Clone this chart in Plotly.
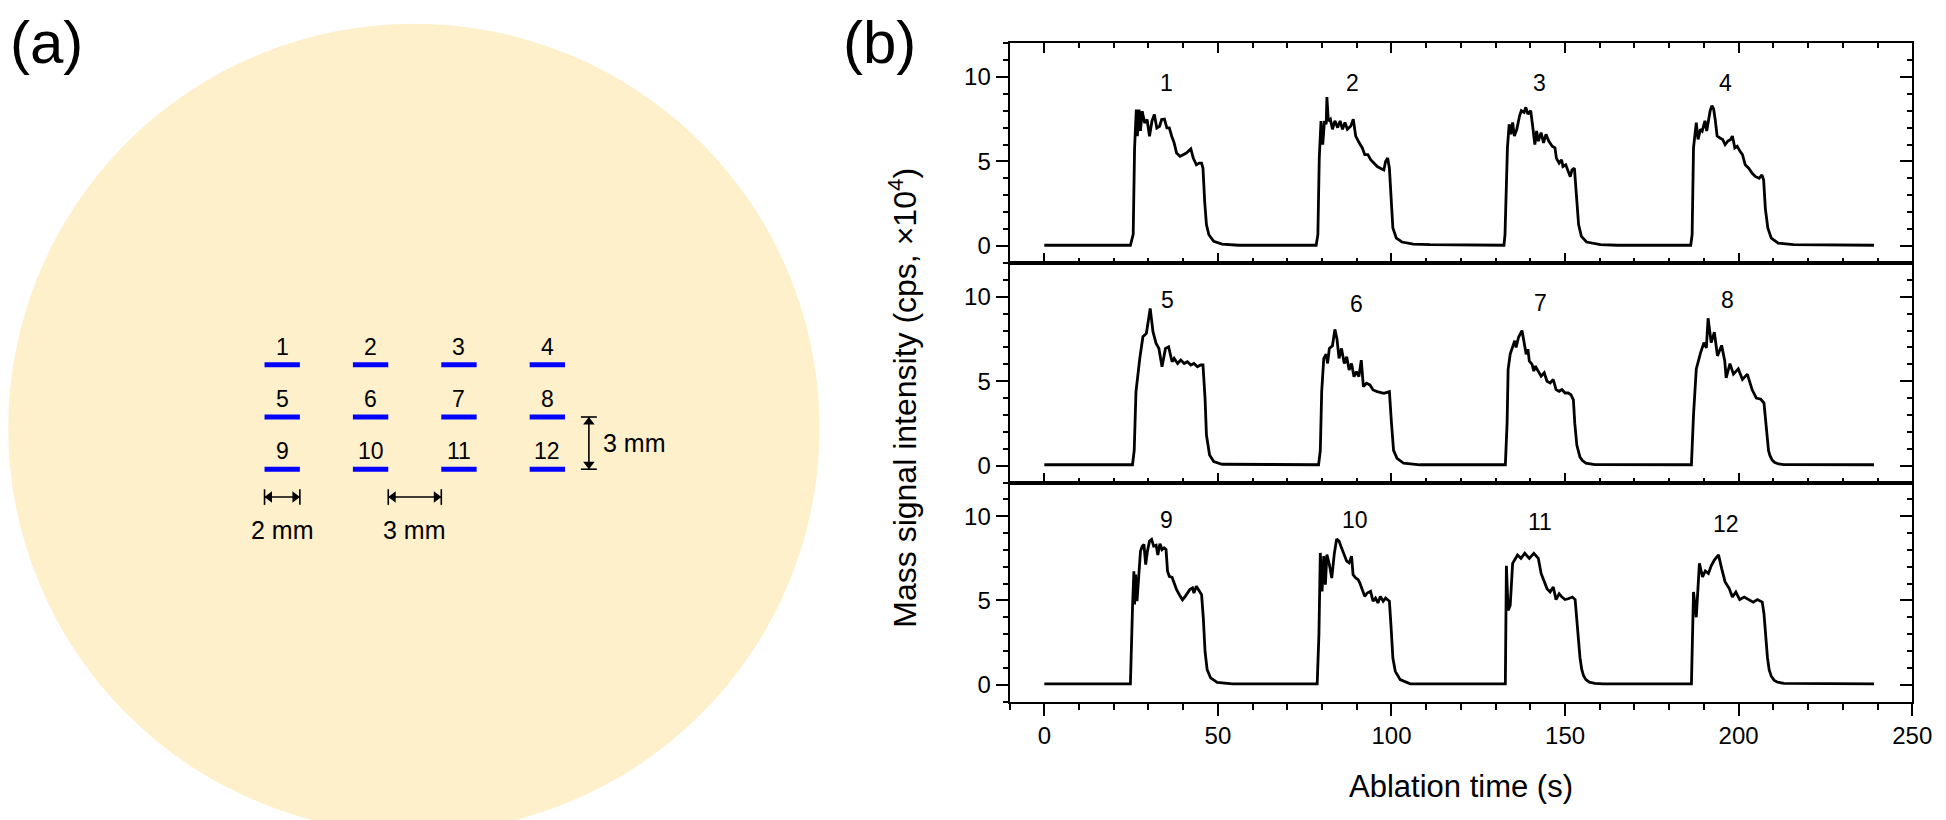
import plotly.graph_objects as go

# ---------------- Panel (a): ablation-line layout on the sample disc (mm) ----------------
spot_ids = list(range(1, 13))
spot_col_x = [-7.5, -2.5, 2.5, 7.5]   # centres of the 2-mm ablation lines
spot_row_y = [3.0, 0.0, -3.0]
line_len_mm = 2.0
disc_x = [-23.0, 22.9]
disc_y = [-23.9, 22.6]

# ---------------- Panel (b): transient signals (x10^4 cps) ----------------
p1_t = [0, 24.8, 25.6, 26.0, 26.5, 26.8, 27.3, 27.7, 28.2, 28.9, 29.6, 30.3, 31.0, 31.7, 32.4, 33.2, 33.8, 34.6, 35.3,
        36.0, 36.7, 37.4, 38.1, 39.1, 40.0, 40.9, 42.2, 42.9, 43.8, 44.6, 45.3, 45.7, 46.2, 46.7, 47.4, 48.8, 51.2, 56.0]
p1_y = [0.05, 0.05, 0.7, 5.8, 8.07, 6.5, 8.07, 6.8, 7.97, 7.28, 7.48, 6.49, 7.38, 7.77, 6.98, 7.08, 7.48, 7.5, 6.98,
        6.98, 6.49, 6.1, 5.5, 5.3, 5.4, 5.5, 5.74, 5.2, 4.8, 4.9, 4.9, 4.6, 2.6, 1.27, 0.67, 0.28, 0.12, 0.05]
p2_t = [78.3, 78.8, 79.2, 79.7, 80.2, 80.7, 81.2, 81.4, 81.8, 82.4, 83.0, 83.7, 84.5, 85.2, 85.9, 86.6, 87.3, 88.3, 89.0,
        89.7, 90.7, 91.6, 92.3, 93.2, 94.0, 94.9, 95.9, 96.8, 97.8, 98.3, 98.9, 99.4, 99.9, 100.4, 101.4, 103.0, 106.3, 111.1]
p2_y = [0.05, 0.67, 5.2, 7.38, 6.0, 7.38, 7.2, 8.8, 7.4, 7.5, 6.9, 7.4, 7.0, 7.4, 6.9, 7.3, 6.9, 7.1, 7.5,
        6.5, 6.1, 5.8, 5.4, 5.4, 5.1, 4.9, 4.7, 4.6, 4.5, 5.0, 5.2, 4.6, 2.8, 1.07, 0.47, 0.24, 0.12, 0.08]
p3_t = [132.4, 132.7, 133.4, 133.9, 134.4, 134.9, 135.4, 136.1, 136.9, 137.4, 138.2, 138.7, 139.3, 140.1, 140.6, 141.3,
        141.8, 142.3, 143.1, 143.8, 144.5, 145.3, 146.3, 147.1, 147.5, 148.3, 149.0, 149.4, 150.2, 150.9, 151.5, 152.0,
        152.7, 153.2, 153.9, 154.7, 156.2, 160.2, 165.1]
p3_y = [0.05, 0.67, 5.8, 7.2, 6.6, 7.3, 6.5, 6.9, 7.7, 8.0, 7.9, 8.2, 7.8, 8.0, 7.2, 6.0,
        6.8, 6.2, 6.7, 6.1, 6.6, 6.2, 5.9, 5.8, 5.2, 4.9, 5.1, 4.7, 4.8, 4.4, 4.1, 4.5,
        4.6, 3.2, 1.27, 0.57, 0.24, 0.08, 0.05]
p4_t = [186.2, 186.6, 187.0, 187.8, 188.3, 189.0, 189.5, 190.3, 190.8, 191.3, 191.8, 192.3, 192.8, 193.3, 193.8, 194.5,
        195.4, 196.1, 196.9, 197.7, 198.2, 198.9, 199.6, 200.4, 201.1, 201.9, 202.9, 203.9, 204.9, 205.9, 206.7, 207.2,
        207.7, 208.4, 209.4, 211.4, 215.8, 239.0]
p4_y = [0.05, 0.67, 5.8, 7.3, 6.3, 6.9, 6.8, 7.4, 6.8, 7.5, 8.0, 8.3, 8.1, 7.4, 6.5, 6.4,
        6.3, 6.0, 6.2, 6.3, 6.5, 5.8, 5.9, 5.6, 5.4, 4.8, 4.6, 4.3, 4.1, 4.0, 4.2, 3.9,
        2.2, 1.07, 0.47, 0.18, 0.08, 0.05]

p5_t = [0, 25.4, 25.9, 26.4, 27.5, 28.4, 29.4, 30.5, 31.3, 32.2, 33.0, 33.9, 34.9, 35.8, 36.8, 37.4, 38.4, 39.3, 40.3,
        41.2, 42.2, 43.1, 44.1, 45.0, 45.7, 46.3, 46.7, 47.6, 48.8, 51.2]
p5_y = [0.05, 0.05, 0.9, 4.38, 6.35, 7.63, 7.83, 9.31, 7.93, 7.24, 6.94, 5.86, 6.94, 7.04, 6.15, 6.35, 6.05, 6.25, 6.05,
        6.15, 5.96, 6.05, 5.86, 5.96, 5.96, 3.98, 1.81, 0.63, 0.24, 0.08]
p6_t = [79.0, 79.5, 79.9, 80.5, 81.2, 81.6, 82.1, 83.0, 83.7, 84.3, 84.9, 85.6, 86.4, 87.1, 87.8, 88.5, 89.2, 89.9,
        90.6, 91.3, 91.9, 92.8, 93.8, 94.7, 95.9, 96.8, 97.8, 98.7, 99.4, 99.97, 100.6, 101.6, 103.5, 108.2]
p6_y = [0.05, 0.9, 4.4, 6.35, 6.6, 6.05, 6.94, 7.1, 8.07, 7.5, 6.35, 6.94, 6.05, 6.45, 5.66, 6.05, 5.27, 5.57,
        5.27, 6.25, 4.68, 4.88, 4.78, 4.48, 4.38, 4.34, 4.28, 4.34, 4.38, 2.6, 0.9, 0.43, 0.14, 0.05]
p7_t = [132.8, 133.3, 133.6, 134.2, 134.9, 135.5, 135.9, 136.6, 137.6, 138.2, 138.8, 139.3, 139.7, 140.5, 141.0, 141.4,
        142.3, 143.1, 144.0, 144.8, 145.7, 146.6, 147.4, 148.3, 149.1, 150.0, 150.9, 151.7, 152.4, 152.8, 153.4, 153.8,
        154.3, 155.0, 156.0, 158.6]
p7_y = [0.05, 2.5, 5.7, 6.6, 7.0, 7.4, 7.0, 7.6, 8.0, 7.4, 6.6, 6.9, 6.2, 6.0, 5.6, 5.9,
        5.6, 5.3, 5.5, 5.0, 4.9, 5.1, 4.5, 4.4, 4.5, 4.3, 4.3, 4.2, 3.9, 2.5, 1.2, 0.8,
        0.5, 0.3, 0.15, 0.06]
p8_t = [186.4, 187.0, 187.8, 189.0, 190.0, 190.7, 191.2, 192.1, 193.0, 193.9, 195.1, 196.0, 196.4, 197.5, 198.5, 199.9,
        201.1, 202.5, 203.9, 205.1, 206.4, 207.3, 207.8, 208.2, 208.6, 209.0, 209.6, 210.3, 211.5, 213.0, 239.0]
p8_y = [0.05, 3.0, 5.73, 6.66, 7.28, 6.97, 8.73, 7.28, 7.9, 6.5, 7.12, 6.2, 5.2, 6.04, 5.42, 5.73,
        5.1, 5.42, 4.49, 4.0, 3.93, 3.7, 2.6, 1.4, 0.9, 0.6, 0.35, 0.2, 0.1, 0.06, 0.05]

p9_t = [0, 24.8, 25.4, 25.8, 26.0, 26.3, 26.7, 27.3, 27.7, 28.2, 28.7, 29.2, 29.7, 30.3, 30.9, 31.5, 32.2, 32.7, 33.3,
        33.9, 34.5, 35.06, 35.5, 36.0, 36.8, 37.4, 38.1, 38.9, 39.8, 40.6, 41.2, 41.9, 42.7, 43.1, 43.8, 44.6, 45.3,
        45.8, 46.3, 46.9, 47.9, 49.8, 54.1]
p9_y = [0.05, 0.05, 4.55, 6.73, 4.76, 6.53, 4.95, 6.93, 7.92, 8.22, 8.32, 7.13, 7.92, 8.52, 8.62, 8.22, 8.28, 7.69, 8.36,
        8.02, 8.12, 8.02, 6.73, 6.43, 6.37, 6.03, 5.64, 5.34, 5.04, 5.24, 5.44, 5.64, 5.74, 5.44, 5.84, 5.54, 5.34,
        3.95, 1.97, 0.89, 0.4, 0.14, 0.05]
p10_t = [78.6, 79.1, 79.5, 80.0, 80.5, 80.96, 81.4, 82.1, 82.8, 83.5, 84.2, 84.9, 85.6, 86.4, 87.1, 87.8, 88.5, 88.94,
         89.7, 90.4, 90.9, 91.6, 92.3, 93.0, 93.97, 94.7, 95.4, 96.1, 96.8, 97.6, 98.3, 98.9, 99.4, 99.9, 100.4, 101.1,
         102.5, 105.4]
p10_y = [0.05, 2.97, 7.82, 5.54, 7.63, 5.94, 7.72, 7.13, 6.33, 7.72, 8.65, 8.52, 8.12, 7.63, 7.33, 7.23, 7.63, 6.53,
         6.33, 6.23, 6.03, 5.64, 5.24, 5.44, 5.54, 4.95, 5.14, 4.85, 5.24, 4.95, 5.14, 5.04, 4.95, 3.37, 1.58, 0.79,
         0.3, 0.05]
p11_t = [132.8, 133.1, 133.6, 134.2, 134.9, 136.3, 137.3, 138.4, 139.7, 141.0, 142.3, 143.1, 144.0, 144.8, 145.7, 146.6,
         147.4, 148.3, 149.1, 150.0, 150.9, 152.1, 152.9, 153.3, 153.8, 154.3, 154.8, 155.3, 156.0, 157.0, 158.6, 161.0]
p11_y = [0.05, 7.06, 4.4, 4.7, 7.2, 7.7, 7.5, 7.8, 7.5, 7.8, 7.5, 6.6, 6.1, 5.7, 5.5, 5.8,
         5.05, 5.4, 5.2, 5.05, 5.1, 5.2, 5.05, 4.0, 2.9, 1.6, 0.9, 0.55, 0.3, 0.15, 0.08, 0.05]
p12_t = [186.4, 187.0, 187.8, 188.7, 189.6, 190.4, 191.3, 192.1, 193.0, 194.2, 195.1, 196.1, 197.3, 198.2, 199.2, 200.3,
         201.6, 202.8, 204.2, 205.4, 206.8, 207.3, 207.8, 208.3, 208.8, 209.4, 210.2, 211.2, 213.0, 239.0]
p12_y = [0.05, 5.5, 4.0, 7.2, 6.4, 6.75, 6.6, 7.06, 7.4, 7.7, 6.9, 6.1, 5.7, 5.2, 5.5, 5.05,
         5.2, 5.05, 4.9, 5.05, 4.9, 4.2, 2.9, 1.6, 0.87, 0.5, 0.27, 0.15, 0.08, 0.05]

panel_t = [p1_t + p2_t + p3_t + p4_t, p5_t + p6_t + p7_t + p8_t, p9_t + p10_t + p11_t + p12_t]
panel_y = [p1_y + p2_y + p3_y + p4_y, p5_y + p6_y + p7_y + p8_y, p9_y + p10_y + p11_y + p12_y]

peak_label_x = [35.2, 88.9, 142.5, 196.1, 35.6, 89.8, 142.8, 196.8, 35.1, 89.4, 142.8, 196.4]
peak_label_y = [9.65, 9.65, 9.65, 9.65, 9.8, 9.6, 9.65, 9.8, 9.8, 9.8, 9.65, 9.55]

x_ticks = [0, 50, 100, 150, 200, 250]
y_ticks = [0, 5, 10]

# ---------------- figure ----------------
W, H = 1946, 820
FONT = "Liberation Sans, Arial, Helvetica, sans-serif"


def py(p):
    return 1 - p / H


fig = go.Figure()

# ablation lines
lx, ly = [], []
for ry in spot_row_y:
    for cx in spot_col_x:
        lx += [cx - line_len_mm / 2, cx + line_len_mm / 2, None]
        ly += [ry, ry, None]
fig.add_trace(go.Scatter(x=lx, y=ly, mode="lines", line=dict(color="rgb(0,0,255)", width=5),
                         xaxis="x", yaxis="y", showlegend=False, hoverinfo="skip"))

# dimension arrows (lines + arrow-head markers)
dim_y = spot_row_y[-1] - 1.6
bar = 0.45
head = 0.28
h_dims = [(spot_col_x[0] - line_len_mm / 2, spot_col_x[0] + line_len_mm / 2, "2 mm"),
          (spot_col_x[1] + line_len_mm / 2, spot_col_x[2] - line_len_mm / 2, "3 mm")]
v_x = spot_col_x[-1] + 2.35
v_top, v_bot = spot_row_y[1], spot_row_y[2]

ax_, ay_ = [], []
for x0, x1, _ in h_dims:
    ax_ += [x0, x1, None, x0, x0, None, x1, x1, None]
    ay_ += [dim_y, dim_y, None, dim_y - bar, dim_y + bar, None, dim_y - bar, dim_y + bar, None]
ax_ += [v_x, v_x, None, v_x - bar, v_x + bar, None, v_x - bar, v_x + bar, None]
ay_ += [v_top, v_bot, None, v_top, v_top, None, v_bot, v_bot, None]
fig.add_trace(go.Scatter(x=ax_, y=ay_, mode="lines", line=dict(color="black", width=1.6),
                         xaxis="x", yaxis="y", showlegend=False, hoverinfo="skip"))
hx, hy, hs = [], [], []
for x0, x1, _ in h_dims:
    hx += [x0 + head, x1 - head]
    hy += [dim_y, dim_y]
    hs += ["triangle-left", "triangle-right"]
hx += [v_x, v_x]
hy += [v_top - head * 1.03, v_bot + head * 1.03]
hs += ["triangle-up", "triangle-down"]
fig.add_trace(go.Scatter(x=hx, y=hy, mode="markers",
                         marker=dict(symbol=hs, size=10, color="black", line=dict(width=0)),
                         xaxis="x", yaxis="y", showlegend=False, hoverinfo="skip"))

# panel (b) signals
for i in range(3):
    fig.add_trace(go.Scatter(x=panel_t[i], y=panel_y[i], mode="lines",
                             line=dict(color="black", width=2.8),
                             xaxis=f"x{i + 2}", yaxis=f"y{i + 2}", showlegend=False, hoverinfo="skip"))
    # dummy trace so the right-hand tick axis is drawn
    fig.add_trace(go.Scatter(x=[None], y=[None], xaxis=f"x{i + 2}", yaxis=f"y{i + 5}",
                             showlegend=False, hoverinfo="skip"))

annotations = []
shapes = []

# disc
shapes.append(dict(type="circle", xref="x", yref="y", x0=disc_x[0], x1=disc_x[1], y0=disc_y[0], y1=disc_y[1],
                   fillcolor="rgb(254,240,203)", line=dict(width=0), layer="below"))

# spot numbers
k = 0
for ry in spot_row_y:
    for cx in spot_col_x:
        annotations.append(dict(x=cx, y=ry, xref="x", yref="y", text=str(spot_ids[k]), showarrow=False,
                                xanchor="center", yanchor="middle",
                                yshift=18, font=dict(family=FONT, size=23, color="black")))
        k += 1

for x0, x1, lab in h_dims:
    annotations.append(dict(x=(x0 + x1) / 2, y=dim_y - 1.9, xref="x", yref="y", text=lab, showarrow=False,
                            xanchor="center", yanchor="middle", font=dict(family=FONT, size=25, color="black")))
annotations.append(dict(x=v_x + 0.7, y=(v_top + v_bot) / 2, xref="x", yref="y", text="3 mm",
                        xanchor="left", yanchor="middle", showarrow=False,
                        font=dict(family=FONT, size=25, color="black")))

# panel letters
annotations.append(dict(x=0, y=py(34), xref="paper", yref="paper", text="(a)", xanchor="left", yanchor="middle",
                        showarrow=False, font=dict(family=FONT, size=60, color="black")))
annotations.append(dict(x=842 / W, y=py(34), xref="paper", yref="paper", text="(b)", xanchor="left",
                        yanchor="middle", showarrow=False, font=dict(family=FONT, size=60, color="black")))

# peak labels
for j in range(12):
    p = j // 4
    annotations.append(dict(x=peak_label_x[j], y=peak_label_y[j], xref=f"x{p + 2}", yref=f"y{p + 2}",
                            text=str(spot_ids[j]), showarrow=False, xanchor="center", yanchor="middle",
                            font=dict(family=FONT, size=23, color="black")))

# axis titles
annotations.append(dict(x=1468 / W, y=py(778), xref="paper", yref="paper", text="Ablation time (s)",
                        xanchor="center", yanchor="middle",
                        showarrow=False, font=dict(family=FONT, size=31, color="black")))
annotations.append(dict(x=904 / W, y=py(390), xref="paper", yref="paper",
                        text="Mass signal intensity (cps, ×10<sup>4</sup>)", textangle=-90,
                        xanchor="center", yanchor="middle",
                        showarrow=False, font=dict(family=FONT, size=32, color="black")))

xdom = [1012 / W, 1924 / W]
ydoms = [[py(255), py(35)], [py(474.5), py(255)], [py(693.5), py(474.5)]]


def xax(i):
    inside = i < 2
    return dict(domain=xdom, range=[-10, 250], anchor=f"y{i + 2}", tickvals=x_ticks,
                ticktext=[str(v) for v in x_ticks], ticks="inside" if inside else "outside",
                ticklen=10 if inside else 12, tickwidth=2, tickcolor="black",
                mirror="ticks" if i == 0 else True, showline=True, linecolor="black", linewidth=2,
                showgrid=False, zeroline=False, showticklabels=(i == 2),
                tickfont=dict(family=FONT, size=24, color="black"),
                minor=dict(dtick=10, tick0=0, ticks="inside" if inside else "outside",
                           ticklen=5 if inside else 6, tickwidth=2, tickcolor="black", showgrid=False))


def yax(i):
    return dict(domain=ydoms[i], range=[-1, 12], anchor=f"x{i + 2}", tickvals=y_ticks,
                ticktext=[str(v) for v in y_ticks], ticks="outside", ticklen=12, tickwidth=2, tickcolor="black",
                mirror=True, showline=True, linecolor="black", linewidth=2, showgrid=False, zeroline=False,
                tickfont=dict(family=FONT, size=24, color="black"),
                minor=dict(dtick=1, tick0=0, ticks="outside", ticklen=5, tickwidth=2, tickcolor="black",
                           showgrid=False))


def yright(i):
    return dict(overlaying=f"y{i + 2}", side="right", anchor=f"x{i + 2}", range=[-1, 12], tickvals=y_ticks,
                ticks="inside", ticklen=12, tickwidth=2, tickcolor="black", showticklabels=False,
                showline=False, showgrid=False, zeroline=False,
                minor=dict(dtick=1, tick0=0, ticks="inside", ticklen=5, tickwidth=2, tickcolor="black",
                           showgrid=False))


layout = dict(
    width=W, height=H, margin=dict(l=0, r=0, t=0, b=0),
    paper_bgcolor="white", plot_bgcolor="rgba(0,0,0,0)",
    font=dict(family=FONT, color="black"),
    showlegend=False,
    xaxis=dict(domain=[0, 1000 / W], range=[-411 / 17.86, 589 / 17.86], visible=False, fixedrange=True),
    yaxis=dict(domain=[0, 1], range=[-411 / 17.4, 409 / 17.4], visible=False, fixedrange=True),
    annotations=annotations, shapes=shapes,
)
for i in range(3):
    layout[f"xaxis{i + 2}"] = xax(i)
    layout[f"yaxis{i + 2}"] = yax(i)
    layout[f"yaxis{i + 5}"] = yright(i)

fig.update_layout(**layout)
fig.write_html("out.html")
